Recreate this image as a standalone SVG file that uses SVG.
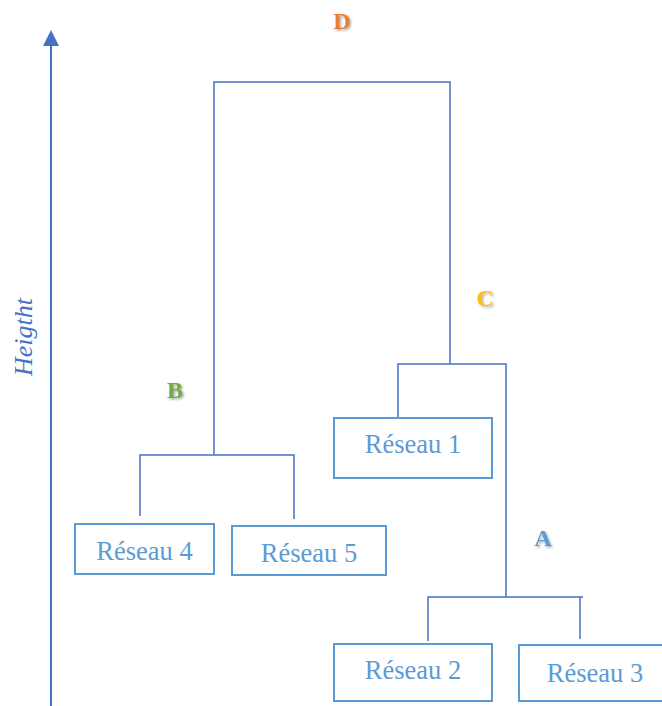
<svg xmlns="http://www.w3.org/2000/svg" width="662" height="706" viewBox="0 0 662 706">
<defs>
<style>
.box{fill:#fff;stroke:#5B9BD5;stroke-width:2}
.lbl{font-family:"Liberation Serif","Times New Roman",serif;font-size:26.5px;fill:#5B9BD5;text-anchor:middle}
.ln{fill:none;stroke:#4472C4;stroke-width:1.5}
.let{font-family:"Liberation Serif","Times New Roman",serif;font-size:24px;font-weight:bold;text-anchor:middle;filter:url(#sh)}
</style>
<filter id="sh" x="-50%" y="-50%" width="200%" height="200%">
<feDropShadow dx="1.5" dy="1.5" stdDeviation="0.8" flood-color="#808080" flood-opacity="0.7"/>
</filter>
</defs>
<g id="axis">
<line x1="51" y1="706" x2="51" y2="44" stroke="#4472C4" stroke-width="2"/>
<polygon points="51,30 43,46 59,46" fill="#4472C4"/>
<text transform="translate(32,337) rotate(-90)" font-family="'Liberation Serif','Times New Roman',serif" font-size="26px" font-style="italic" fill="#4472C4" text-anchor="middle">Heigtht</text>
</g>
<g id="connectors">
<polyline class="ln" points="214,455 214,82 450,82 450,364"/>
<polyline class="ln" points="140,516 140,455 294,455 294,519"/>
<polyline class="ln" points="398,418 398,364 506,364 506,597"/>
<polyline class="ln" points="428,641 428,597 583,597"/>
<line class="ln" x1="580" y1="597" x2="580" y2="639"/>
</g>
<g id="labels">
<text class="let" x="342" y="29" fill="#ED7D31">D</text>
<text class="let" x="175" y="398" fill="#70AD47">B</text>
<text class="let" x="485" y="306" fill="#FFC000">C</text>
<text class="let" x="543" y="546" fill="#5B9BD5">A</text>
</g>
<g id="reseau1"><rect class="box" x="334" y="418" width="158" height="60"/><text class="lbl" x="413" y="453">Réseau 1</text></g>
<g id="reseau2"><rect class="box" x="334" y="644" width="158" height="57"/><text class="lbl" x="413" y="679">Réseau 2</text></g>
<g id="reseau3"><rect class="box" x="519" y="645" width="160" height="56"/><text class="lbl" x="595" y="682">Réseau 3</text></g>
<g id="reseau4"><rect class="box" x="75" y="524" width="139" height="50"/><text class="lbl" x="144.5" y="560">Réseau 4</text></g>
<g id="reseau5"><rect class="box" x="232" y="526" width="154" height="49"/><text class="lbl" x="309" y="562">Réseau 5</text></g>
</svg>
